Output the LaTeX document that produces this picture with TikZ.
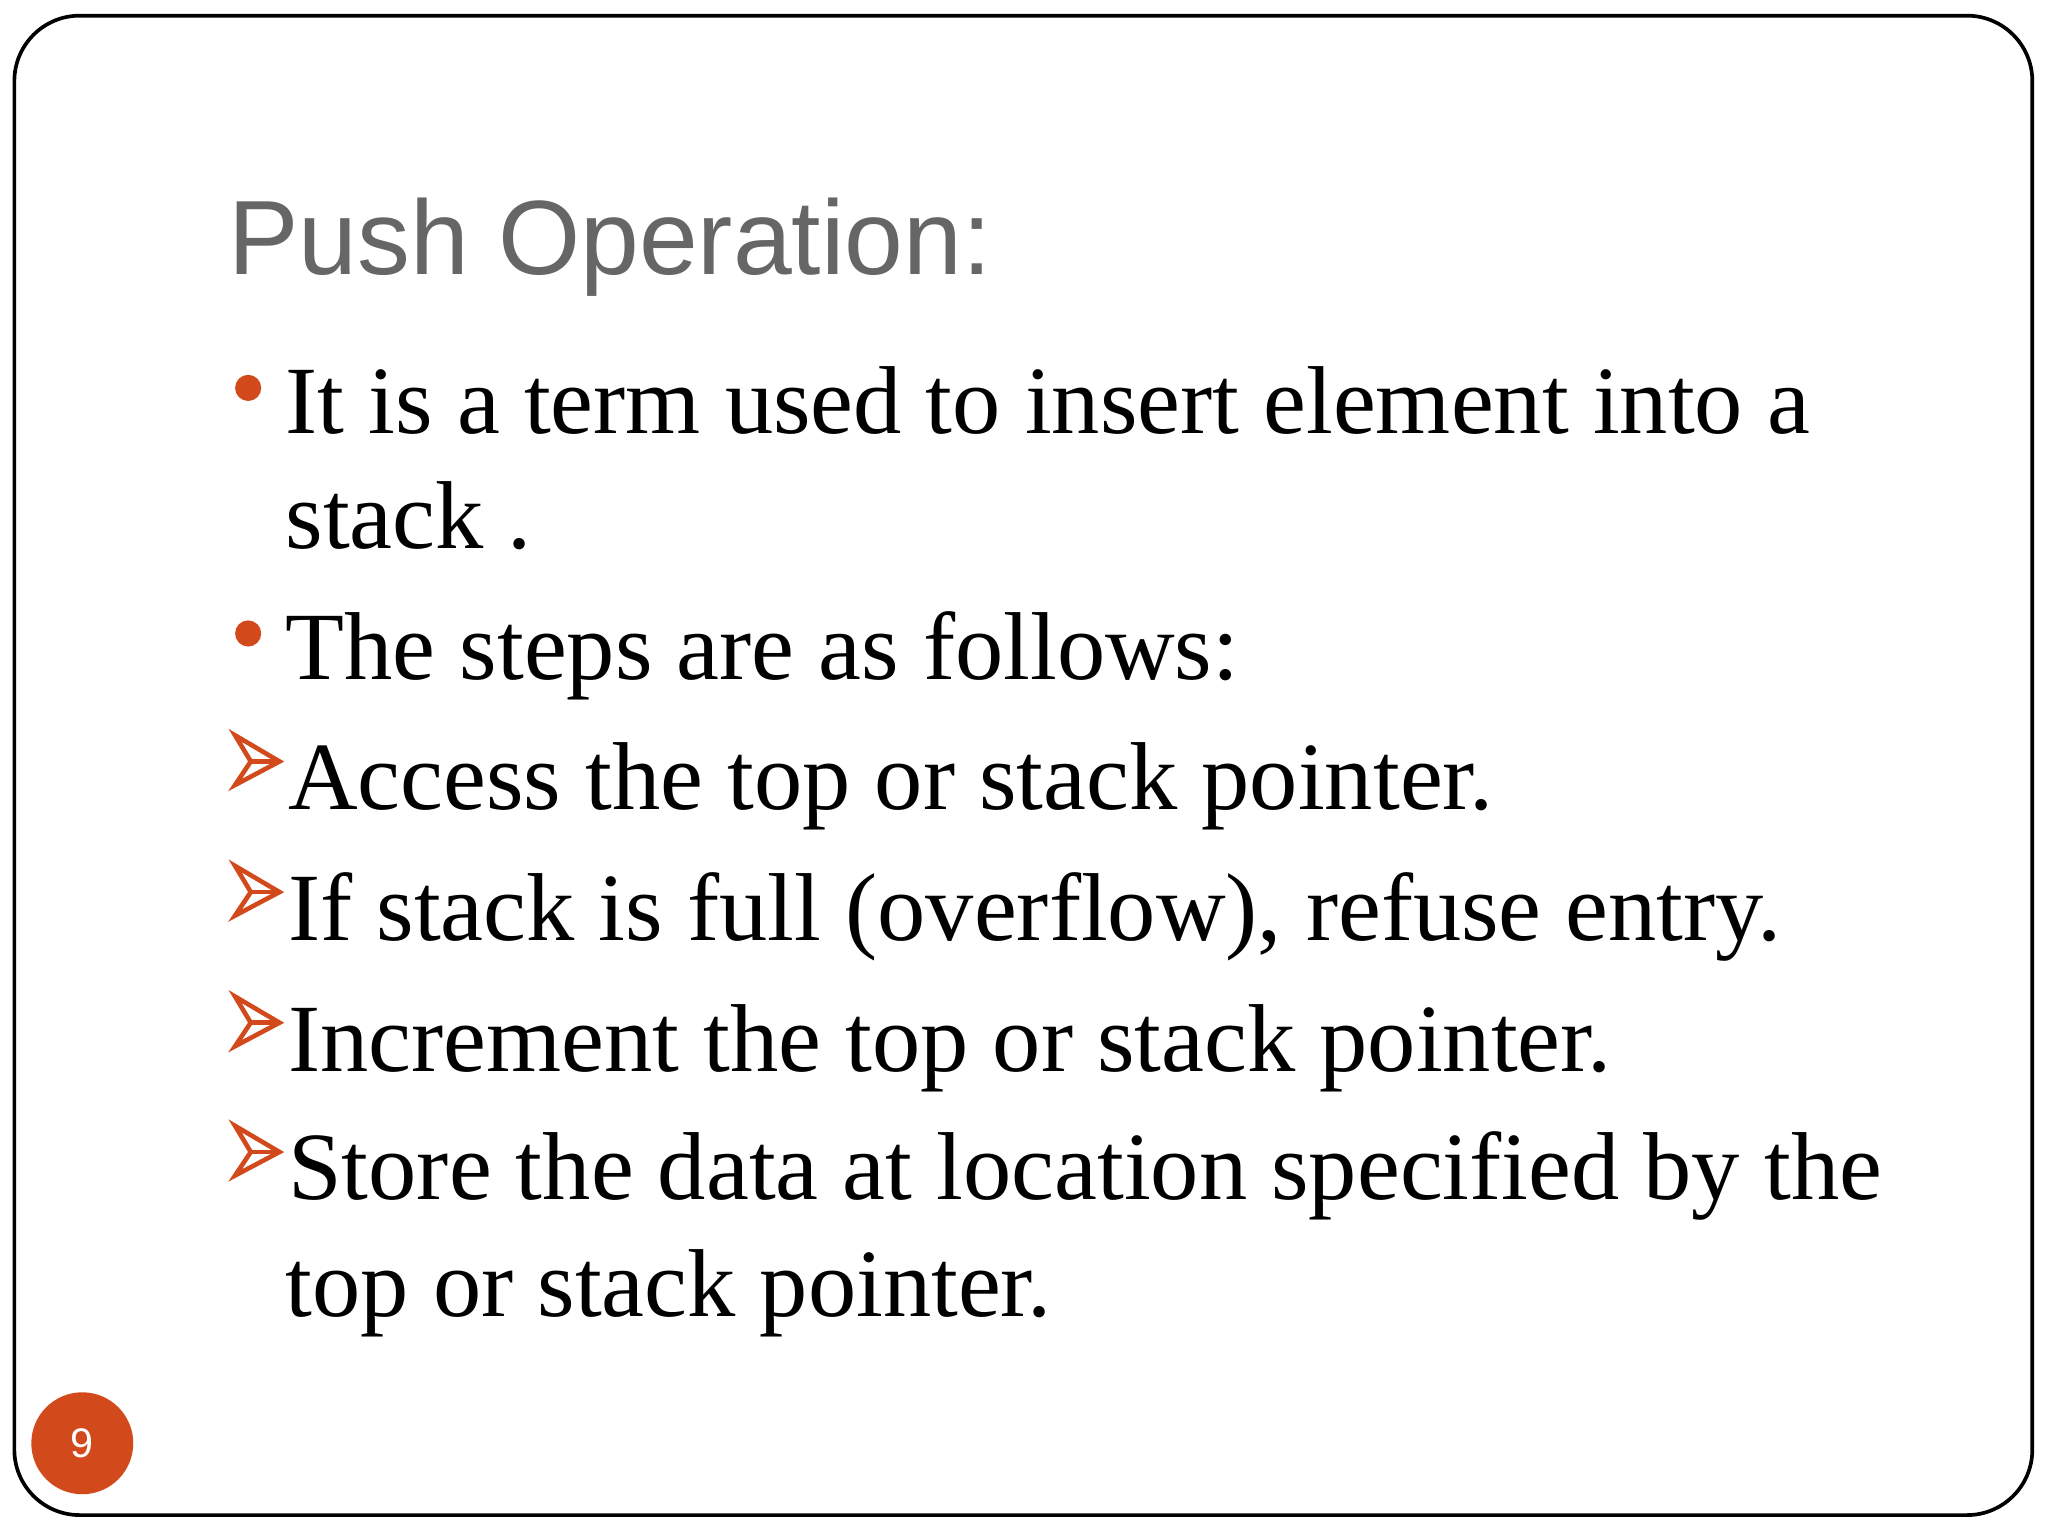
\documentclass[tikz,border=0pt]{standalone}
\usepackage{fontspec}
\setmainfont{Liberation Serif}
\newfontfamily\titlefont{Liberation Sans}
\definecolor{accent}{HTML}{D24A1B}
\definecolor{titlegray}{HTML}{666666}
\tikzset{
  body/.style={anchor=base west,inner sep=0pt,font=\fontsize{21}{25}\selectfont},
  dotb/.style={fill=accent,draw=none},
  arrowb/.style={draw=accent,fill=white,line width=1pt,line join=miter}
}
\newcommand{\arrowmark}[2]{%
  \draw[arrowb] (180,#2-20) -- (214,#2) -- (180,#2+18) -- (192,#2) -- cycle;
  \draw[accent,line width=1pt] (192,#2) -- (214,#2);}
\begin{document}
\begin{tikzpicture}[x=0.01cm,y=-0.01cm]
\useasboundingbox (0,0) rectangle (1568,1176);
\fill[white] (0,0) rectangle (1568,1176);
\draw[line width=0.8pt,rounded corners=0.5cm] (11,12) rectangle (1556,1160);
\node[anchor=base west,inner sep=0pt,text=titlegray,font=\titlefont\fontsize{23}{28}\selectfont] (title) at (174,210) {Push Operation:};
\fill[dotb] (190,297) circle[radius=0.1cm];
\fill[dotb] (190,485) circle[radius=0.1cm];
\node[body] (l1) at (218,332) {It is a term used to insert element into a};
\node[body] (l2) at (218,420) {stack .};
\node[body] (l3) at (218,520) {The steps are as follows:};
\arrowmark{a1}{583}
\node[body] (l4) at (220,620) {Access the top or stack pointer.};
\arrowmark{a2}{683}
\node[body] (l5) at (220,720) {If stack is full (overflow), refuse entry.};
\arrowmark{a3}{783}
\node[body] (l6) at (220,820) {Increment the top or stack pointer.};
\arrowmark{a4}{882}
\node[body] (l7) at (220,918) {Store the data at location specified by the};
\node[body] (l8) at (218,1008) {top or stack pointer.};
\node[circle,fill=accent,minimum size=0.78cm,inner sep=0pt,text=white,font=\titlefont\fontsize{9}{10}\selectfont] (pg) at (63,1105) {9};
\end{tikzpicture}
\end{document}
